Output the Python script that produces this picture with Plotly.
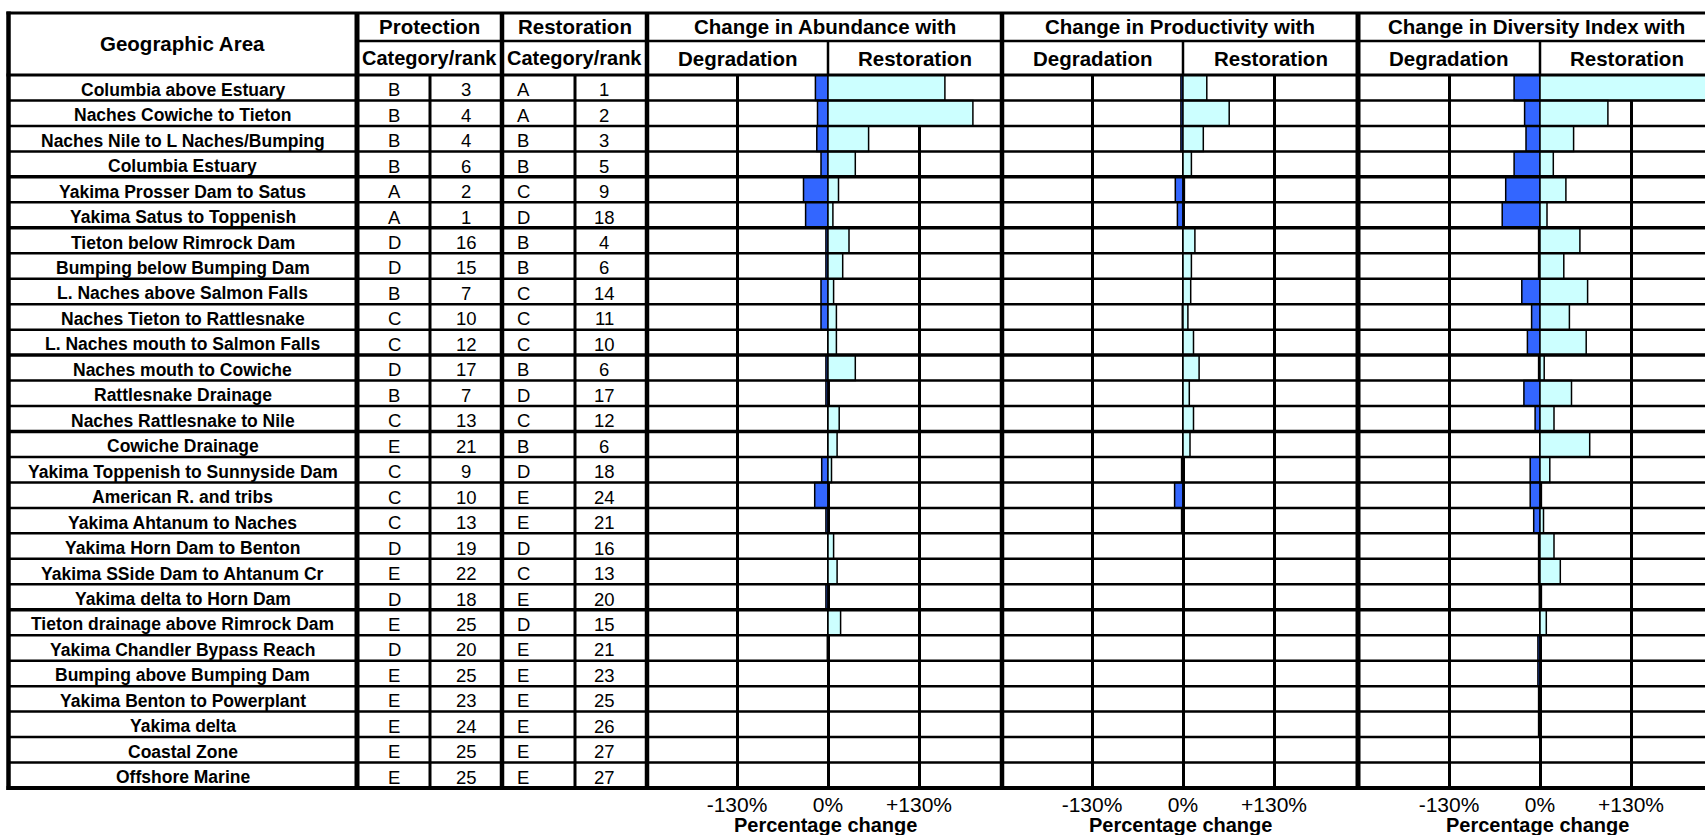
import plotly.graph_objects as go

# ---------------- data ----------------
areas = [
    "Columbia above Estuary", "Naches Cowiche to Tieton", "Naches Nile to L Naches/Bumping",
    "Columbia Estuary", "Yakima Prosser Dam to Satus", "Yakima Satus to Toppenish",
    "Tieton below Rimrock Dam", "Bumping below Bumping Dam", "L. Naches above Salmon Falls",
    "Naches Tieton to Rattlesnake", "L. Naches mouth to Salmon Falls", "Naches mouth to Cowiche",
    "Rattlesnake Drainage", "Naches Rattlesnake to Nile", "Cowiche Drainage",
    "Yakima Toppenish to Sunnyside Dam", "American R. and tribs", "Yakima Ahtanum to Naches",
    "Yakima Horn Dam to Benton", "Yakima SSide Dam to Ahtanum Cr", "Yakima delta to Horn Dam",
    "Tieton drainage above Rimrock Dam", "Yakima Chandler Bypass Reach", "Bumping above Bumping Dam",
    "Yakima Benton to Powerplant", "Yakima delta", "Coastal Zone", "Offshore Marine",
]
prot_cat = ["B", "B", "B", "B", "A", "A", "D", "D", "B", "C", "C", "D", "B", "C",
            "E", "C", "C", "C", "D", "E", "D", "E", "D", "E", "E", "E", "E", "E"]
prot_rank = [3, 4, 4, 6, 2, 1, 16, 15, 7, 10, 12, 17, 7, 13,
             21, 9, 10, 13, 19, 22, 18, 25, 20, 25, 23, 24, 25, 25]
rest_cat = ["A", "A", "B", "B", "C", "D", "B", "B", "C", "C", "C", "B", "D", "C",
            "B", "D", "E", "E", "D", "C", "E", "D", "E", "E", "E", "E", "E", "E"]
rest_rank = [1, 2, 3, 5, 9, 18, 4, 6, 14, 11, 10, 6, 17, 12,
             6, 18, 24, 21, 16, 13, 20, 15, 21, 23, 25, 26, 27, 27]

# percentage change (degradation <= 0, restoration >= 0)
abund_deg = [-18, -15, -16, -10, -35, -32, -3, -3, -10, -10, 0, -3, -3, 0,
             0, -9, -19, -3, 0, 0, -3, 0, -1, 0, 0, 0, 0, 0]
abund_rest = [167, 207, 58, 39, 15, 7, 30, 21, 8, 12, 12, 39, 1.5, 16,
              13, 5, 1, 1, 8, 13, 0, 18, 0, 0, 0, 0, 0, 0]
prod_deg = [-3, -3, -3, 0, -11, -8, 0, 0, 0, -1, 0, 0, 0, 0,
            0, -2, -12, -2, 0, 0, 0, 0, 0, 0, 0, 0, 0, 0]
prod_rest = [34, 66, 29, 12, 2, 1.5, 17, 12, 11, 7, 15, 23, 9, 15,
             10, 1, 1, 0, 0, 0, 0, 0, 0, 0, 0, 0, 0, 0]
div_deg = [-37, -22, -20, -37, -49, -54, -2, -2, -26, -12, -18, -2, -23, -7,
           0, -14, -14, -9, -2, -2, -1, 0, -3, -3, -2, -2, 0, 0]
div_rest = [250, 97, 48, 19, 37, 10, 57, 34, 68, 42, 66, 6, 45, 20,
            71, 14, 2, 5, 20, 29, 2, 9, 0, 0, 0, 0, 0, 0]

panel_titles = ["Change in Abundance with", "Change in Productivity with",
                "Change in Diversity Index with"]
tick_vals = [-130, 0, 130]
tick_text = ["-130%", "0%", "+130%"]

# ---------------- layout geometry (pixels) ----------------
W, H = 1705, 835
FONT = "Liberation Sans, Arial, sans-serif"
S = 0.7  # pixels per percent
X_LEFT = 8.5
COL = [357, 430, 502, 575, 647]
PANELS = [  # left, nominal right, zero
    (647, 1002, 828),
    (1002, 1358, 1183),
    (1358, 1714, 1540),
]
Y_TOP, Y_H1, Y_H2, Y_BOT = 13, 41, 75, 788
THICK_ROWS = {4, 6, 11, 14, 21}
DEG_COLOR = "#3366FF"
REST_COLOR = "#CCFFFF"


def px(x):
    return x / W


def py(y):
    return 1 - y / H


n = len(areas)
rows = list(range(n))

fig = go.Figure()
series = [(abund_deg, abund_rest), (prod_deg, prod_rest), (div_deg, div_rest)]
axnames = ["x", "x2", "x3"]
for (deg, rest), ax in zip(series, axnames):
    for vals, col in ((deg, DEG_COLOR), (rest, REST_COLOR)):
        fig.add_trace(go.Bar(
            x=vals, y=rows, orientation="h", width=1.0,
            marker=dict(color=col, line=dict(color="black", width=1.5)),
            xaxis=ax, yaxis="y", hoverinfo="skip", showlegend=False,
        ))

layout_axes = {}
for i, (left, right, zero) in enumerate(PANELS):
    vis_right = min(right, W)
    key = "xaxis" if i == 0 else f"xaxis{i + 1}"
    layout_axes[key] = dict(
        domain=[px(left), px(vis_right)],
        range=[-(zero - left) / S, (vis_right - zero) / S],
        anchor="y",
        tickvals=tick_vals, ticktext=tick_text,
        tickfont=dict(family=FONT, size=21, color="black"),
        ticklabelstandoff=2,
        showgrid=True, gridcolor="black", gridwidth=2.5,
        zeroline=True, zerolinecolor="black", zerolinewidth=3,
        showline=False, ticks="", fixedrange=True,
    )

fig.update_layout(
    width=W, height=H,
    margin=dict(l=0, r=0, t=0, b=0, pad=0),
    paper_bgcolor="white", plot_bgcolor="white",
    barmode="overlay", showlegend=False,
    yaxis=dict(domain=[py(Y_BOT), py(Y_H2)], range=[n - 0.5, -0.5],
               showgrid=False, zeroline=False, showticklabels=False, fixedrange=True),
    **layout_axes,
)

shapes = []


def hline(y, x0, x1, w):
    shapes.append(dict(type="line", xref="paper", yref="paper", x0=px(x0), x1=px(x1),
                       y0=py(y), y1=py(y), line=dict(color="black", width=w), layer="above"))


def vline(x, y0, y1, w):
    shapes.append(dict(type="line", xref="paper", yref="paper", x0=px(x), x1=px(x),
                       y0=py(y0), y1=py(y1), line=dict(color="black", width=w), layer="above"))


hline(Y_TOP, X_LEFT - 2, W, 3)
hline(Y_H1, COL[0], W, 2.5)
hline(Y_H2, X_LEFT - 2, W, 3)
for k in range(1, n):
    shapes.append(dict(type="line", xref="paper", yref="y", x0=px(X_LEFT), x1=1,
                       y0=k - 0.5, y1=k - 0.5,
                       line=dict(color="black", width=3.5 if k in THICK_ROWS else 2.5),
                       layer="above"))
hline(Y_BOT, X_LEFT - 2, W, 4)

vline(X_LEFT, Y_TOP - 1.5, Y_BOT + 2, 4.5)
vline(COL[0], Y_TOP, Y_BOT, 5)
vline(COL[1], Y_H2, Y_BOT, 3)
vline(COL[2], Y_TOP, Y_BOT, 4.5)
vline(COL[3], Y_H2, Y_BOT, 3)
vline(COL[4], Y_TOP, Y_BOT, 4.5)
vline(PANELS[1][0], Y_TOP, Y_BOT, 4.5)
vline(PANELS[2][0], Y_TOP, Y_BOT, 5)
for i, ax in enumerate(axnames):
    shapes.append(dict(type="line", xref=ax, yref="paper", x0=0, x1=0,
                       y0=py(Y_H1), y1=py(Y_H2), line=dict(color="black", width=2.5),
                       layer="above"))

annotations = []


def text(x, y, s, size, bold=False, xref="paper", yref="paper", yshift=0, xshift=0):
    annotations.append(dict(
        x=x, y=y, xref=xref, yref=yref, text=f"<b>{s}</b>" if bold else s,
        showarrow=False, xanchor="center", yanchor="middle",
        font=dict(family=FONT, size=size, color="black"), yshift=yshift, xshift=xshift,
    ))


text(px((X_LEFT + COL[0]) / 2), py(44), "Geographic Area", 20.5, bold=True)
text(px((COL[0] + COL[2]) / 2), py(27), "Protection", 20.5, bold=True)
text(px((COL[2] + COL[4]) / 2), py(27), "Restoration", 20.5, bold=True)
text(px((COL[0] + COL[2]) / 2), py(58.5), "Category/rank", 20, bold=True)
text(px((COL[2] + COL[4]) / 2), py(58.5), "Category/rank", 20, bold=True)
for (left, right, zero), title, ax in zip(PANELS, panel_titles, axnames):
    text(px((left + right) / 2), py(27), title, 20.5, bold=True)
    text(px((left + zero) / 2), py(58.5), "Degradation", 20.5, bold=True)
    text(px((zero + right) / 2), py(58.5), "Restoration", 20.5, bold=True)
    text(0, py(825), "Percentage change", 20, bold=True, xref=ax, xshift=-3)

for i in rows:
    text(px((X_LEFT + COL[0]) / 2), i, areas[i], 17.5, bold=True, yref="y", yshift=-2)
    text(px(394), i, prot_cat[i], 18.5, yref="y", yshift=-2)
    text(px(466), i, str(prot_rank[i]), 18.5, yref="y", yshift=-2)
    text(px(523), i, rest_cat[i], 18.5, yref="y", yshift=-2)
    text(px(604), i, str(rest_rank[i]), 18.5, yref="y", yshift=-2)

fig.update_layout(shapes=shapes, annotations=annotations)
fig.write_html(
    "out.html",
    config={"displayModeBar": False, "staticPlot": False},
    post_script="document.body.style.margin='0';document.body.style.overflow='hidden';",
)
